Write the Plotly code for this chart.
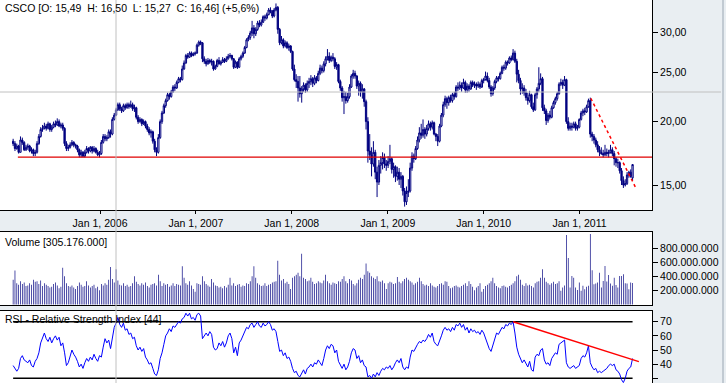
import pandas as pd
import plotly.graph_objects as go

# ---------------- weekly OHLC data (CSCO) ----------------
o05 = [18.3,18.1,17.7,17.9, 17.4,18.4,18.2,17.6, 17.8,17.9,17.5,17.6,17.3, 17.4,18.1,18.7,19.3, 19.4,19.6,19.4,19.8, 19.3,19.5,19.8,19.7,20.0, 19.6,19.7,19.4,18.1, 17.7,17.8,18.0,18.2,18.0, 17.9,17.6,17.2,17.4, 17.1,17.4,17.7,17.5, 17.8,17.5,17.7,17.4,17.2]
h05 = [18.5,18.3,18.1,18.0, 18.7,18.6,18.3,18.0, 18.1,18.0,17.8,17.7,17.6, 18.3,18.9,19.5,19.7, 19.9,19.8,20.0,19.9, 19.7,20.0,20.1,20.3,20.2, 19.9,19.9,19.5,18.3, 18.0,18.2,18.4,18.3,18.1, 18.0,17.7,17.6,17.5, 17.6,17.9,17.8,17.9, 17.9,17.9,17.8,17.6,17.5]
l05 = [17.9,17.5,17.6,17.3, 17.4,18.0,17.5,17.5, 17.6,17.4,17.3,17.1,17.1, 17.3,18.0,18.6,19.1, 19.3,19.2,19.3,19.1, 19.1,19.4,19.5,19.6,19.5, 19.4,19.2,17.9,17.5, 17.5,17.7,17.9,17.8,17.7, 17.4,17.0,17.0,17.0, 17.0,17.3,17.3,17.4, 17.3,17.4,17.3,17.1,17.0]
c05 = [18.1,17.7,17.9,17.4, 18.4,18.2,17.6,17.8, 17.9,17.5,17.6,17.3,17.4, 18.1,18.7,19.3,19.4, 19.6,19.4,19.8,19.3, 19.5,19.8,19.7,20.0,19.6, 19.7,19.4,18.1,17.7, 17.8,18.0,18.2,18.0,17.9, 17.6,17.2,17.4,17.1, 17.4,17.7,17.5,17.8, 17.5,17.7,17.4,17.2,17.3]

o06 = [17.3,18.2,18.7,18.5, 18.6,19.1,18.9,20.2, 20.6,21.1,21.6,21.2,21.0, 21.5,21.3,21.6,21.4, 21.6,21.2,21.3,20.4, 20.0,20.2,19.8,20.0,19.6, 19.3,19.0,19.1,18.3, 17.6,17.4,18.6,20.0, 20.8,21.5,22.0,22.6,22.4, 22.9,23.4,23.3,23.9, 24.3,24.2,25.4,26.1, 27.0,26.8,27.3,27.0,27.2]
h06 = [18.4,18.9,18.9,18.8, 19.3,19.3,20.4,20.8, 21.3,21.8,21.8,21.4,21.7, 21.7,21.8,21.8,22.0, 21.8,21.6,21.4,20.6, 20.4,20.3,20.2,20.1,19.8, 19.5,19.3,19.2,18.5, 17.8,18.9,20.2,21.0, 21.7,22.2,22.8,22.8,23.1, 23.6,23.7,24.1,24.5, 24.5,25.8,26.4,27.2, 27.3,27.5,27.5,27.4,27.5]
l06 = [17.2,18.1,18.3,18.3, 18.5,18.6,18.8,20.1, 20.5,21.0,21.0,20.8,20.9, 21.1,21.2,21.2,21.3, 21.0,20.9,20.2,19.8, 19.9,19.6,19.7,19.4,19.1, 18.8,18.6,18.1,17.4, 17.1,17.3,18.5,19.8, 20.7,21.3,21.9,22.1,22.3, 22.8,23.0,23.2,23.8, 23.9,24.1,25.3,26.0, 26.6,26.7,26.8,26.9,27.0]
c06 = [18.2,18.7,18.5,18.6, 19.1,18.9,20.2,20.6, 21.1,21.6,21.2,21.0,21.5, 21.3,21.6,21.4,21.6, 21.2,21.3,20.4,20.0, 20.2,19.8,20.0,19.6,19.3, 19.0,19.1,18.3,17.6, 17.4,18.6,20.0,20.8, 21.5,22.0,22.6,22.4,22.9, 23.4,23.3,23.9,24.3, 24.2,25.4,26.1,27.0, 26.8,27.3,27.0,27.2,27.3]

o07 = [27.3,28.3,28.7,28.6, 26.6,26.3,26.0,26.4, 26.2,26.3,25.4,25.7,26.4, 26.0,26.2,26.5,26.3, 26.6,26.9,27.0,26.6, 25.6,26.2,25.6,26.6,26.9, 27.3,28.0,29.0,29.3, 29.9,30.6,29.8,30.4,31.3, 31.0,31.4,32.2,32.0, 32.5,33.2,33.0,32.3, 33.2,33.6,30.4,28.6,29.0, 28.2,28.6,28.0,28.2]
h07 = [28.5,28.9,28.9,28.7, 26.9,26.6,26.7,26.6, 26.6,26.4,25.9,26.6,26.8, 26.4,26.8,26.7,26.9, 27.2,27.3,27.1,26.7, 26.4,26.3,26.8,27.1,27.5, 28.2,29.2,29.6,30.2, 31.6,31.0,30.7,31.6,31.7, 31.8,32.4,32.5,32.8, 33.5,33.6,33.2,33.5, 34.2,33.8,30.6,29.5,29.2, 28.9,28.8,28.5,28.3]
l07 = [27.2,28.1,28.3,26.2, 26.0,25.7,25.9,26.0, 25.8,25.2,25.3,25.6,25.9, 25.8,26.1,26.1,26.2, 26.5,26.7,26.4,25.4, 25.5,25.4,25.5,26.4,26.7, 27.2,27.9,28.8,29.0, 29.5,29.2,29.5,30.2,30.7, 30.8,31.3,31.6,31.8, 32.4,32.7,32.0,32.1, 33.0,29.8,28.3,28.4,27.9, 28.0,27.8,27.6,27.3]
c07 = [28.3,28.7,28.6,26.6, 26.3,26.0,26.4,26.2, 26.3,25.4,25.7,26.4,26.0, 26.2,26.5,26.3,26.6, 26.9,27.0,26.6,25.6, 26.2,25.6,26.6,26.9,27.3, 28.0,29.0,29.3,29.9, 30.6,29.8,30.4,31.3,31.0, 31.4,32.2,32.0,32.5, 33.2,33.0,32.3,33.2, 33.6,30.4,28.6,29.0,28.2, 28.6,28.0,28.2,27.5]

o08 = [27.5,25.4,24.2,24.0, 23.3,22.7,23.2,23.6,23.1, 23.8,24.0,24.3,23.8, 24.4,24.1,24.9,25.5, 25.2,26.0,26.6,26.9,26.4, 26.8,26.6,25.6,25.9, 24.0,23.3,22.3,22.4, 22.0,22.4,23.4,24.6,24.9, 24.6,23.5,23.8,22.9, 23.2,21.9,20.0,17.5,17.2, 16.5,17.4,15.9,15.2, 16.4,16.6,17.0,16.5]
h08 = [27.6,25.9,24.8,24.6, 24.6,23.5,23.9,23.8,24.1, 24.4,24.7,24.5,24.7, 24.6,25.2,25.9,25.8, 26.3,26.9,27.8,27.4,27.0, 27.3,26.8,26.2,26.0, 24.2,23.5,23.0,22.9, 22.8,23.7,24.8,25.3,25.2, 24.7,24.1,24.0,23.7, 23.3,22.1,20.4,18.9,17.8, 18.3,17.6,16.3,16.8, 17.1,17.4,17.3,16.8]
l08 = [25.2,24.0,23.3,21.9, 22.3,21.8,22.9,22.8,22.9, 23.3,23.6,23.4,23.6, 23.8,24.0,24.7,24.9, 25.0,25.7,26.4,26.1,26.2, 26.3,25.4,25.3,23.8, 23.0,21.9,20.7,21.7, 21.8,22.2,23.3,24.3,24.3, 23.2,22.5,22.4,22.2, 21.4,19.3,16.6,16.8,15.6, 16.3,15.4,14.2,15.0, 15.8,16.1,16.2,16.0]
c08 = [25.4,24.2,24.0,23.3, 22.7,23.2,23.6,23.1,23.8, 24.0,24.3,23.8,24.4, 24.1,24.9,25.5,25.2, 26.0,26.6,26.9,26.4,26.8, 26.6,25.7,25.9,24.0, 23.3,22.3,22.4,22.0, 22.4,23.4,24.6,24.9,24.6, 23.5,23.8,22.9,23.2, 21.9,20.0,17.5,17.2,16.5, 17.4,15.9,15.2,16.4, 16.6,17.0,16.5,16.4]

o09 = [16.4,16.7,16.9,16.1,16.3, 15.6,15.9,15.4,15.6, 14.6,13.9,14.5,14.6, 16.2,17.1,16.9,17.7, 18.4,19.0,18.8,19.3,18.9, 19.4,19.8,19.5,19.9, 18.9,18.7,18.3,19.6,20.6, 21.6,22.2,21.8,22.3, 22.0,22.6,22.4,23.4, 23.3,23.6,23.3,23.9,23.1, 23.5,23.2,23.9,23.6, 23.7,23.5,23.7,23.4]
h09 = [17.1,18.0,17.0,16.6,16.4, 16.3,16.2,15.9,15.7, 14.8,14.9,15.4,16.6, 17.4,17.3,17.9,18.7, 19.5,19.8,20.2,19.5,19.7, 20.1,20.0,20.1,20.0, 19.0,18.9,19.8,20.8,21.9, 22.5,22.4,22.5,22.6, 22.8,22.9,23.6,23.9, 24.0,23.9,24.3,24.1,23.8, 23.7,24.1,24.1,24.0, 23.9,24.0,23.9,24.3]
l09 = [16.2,16.5,15.8,15.5,15.2, 15.3,15.0,14.8,14.3, 13.6,13.7,14.2,14.5, 16.0,16.6,16.8,17.6, 18.2,18.5,18.6,18.5,18.7, 19.2,19.2,19.3,18.8, 18.3,17.9,18.2,19.5,20.4, 21.4,21.2,21.5,21.8, 21.8,22.1,22.3,23.0, 23.1,22.9,23.2,22.8,22.8, 22.9,23.1,23.4,23.3, 23.1,23.3,23.2,23.3]
c09 = [16.7,16.9,16.1,16.3,15.6, 15.9,15.4,15.6,14.6, 13.9,14.5,14.6,16.2, 17.1,16.9,17.7,18.4, 19.0,18.8,19.3,18.9,19.4, 19.8,19.5,19.9,18.9, 18.7,18.3,19.6,20.6,21.6, 22.2,21.8,22.3,22.0, 22.6,22.4,23.4,23.3, 23.6,23.3,23.9,23.1,23.5, 23.2,23.9,23.6,23.7, 23.5,23.7,23.4,24.1]

o10 = [24.1,24.2,24.6,24.1,23.4, 22.7,23.3,24.0,24.4, 24.3,24.9,25.6,25.5, 26.2,26.1,26.7,26.5,27.3, 26.3,24.8,24.1,23.2, 23.3,22.8,22.3,22.0, 22.6,21.4,21.1,22.6,23.2, 23.8,24.3,21.3,21.0, 20.1,20.6,20.4,21.3, 21.8,22.2,22.7,23.7,23.9, 23.6,24.2,20.0,19.4, 19.6,19.5,19.8,19.4,19.5]
h10 = [24.4,25.1,25.0,24.4,23.6, 23.5,24.2,24.6,24.6, 25.1,25.8,25.9,26.4, 26.4,26.9,27.0,27.8,27.6, 26.6,25.3,24.4,23.8, 23.6,23.2,22.8,23.0, 22.7,21.8,22.8,23.4,25.6, 24.9,24.5,21.6,21.2, 20.8,21.0,21.5,22.0, 22.4,22.9,23.9,24.3,24.2, 24.6,24.3,20.4,19.9, 19.9,20.0,20.0,19.7,20.3]
l10 = [23.8,24.1,23.9,23.2,22.4, 22.5,23.1,23.8,24.0, 24.2,24.8,25.2,25.3, 25.8,26.0,26.3,26.4,26.1, 23.9,23.8,22.6,22.7, 22.5,22.0,21.6,21.8, 21.2,20.9,21.0,22.2,22.9, 23.6,21.0,20.7,19.7, 19.9,20.2,20.3,21.2, 21.6,22.0,22.6,23.5,23.2, 23.5,19.8,19.2,19.2, 19.2,19.4,19.2,19.2,19.4]
c10 = [24.2,24.6,24.1,23.4,22.7, 23.3,24.0,24.4,24.3, 24.9,25.6,25.5,26.2, 26.1,26.7,26.5,27.3,26.3, 24.8,24.1,23.2,23.3, 22.8,22.3,22.0,22.6, 21.4,21.1,22.6,23.2,23.8, 24.3,21.3,21.0,20.1, 20.6,20.4,21.3,21.8, 22.2,22.7,23.7,23.9,23.6, 24.2,20.0,19.4,19.6, 19.5,19.8,19.4,19.5,20.2]

o11 = [20.2,20.8,21.0,20.9, 21.4,22.0,18.9,18.7, 18.4,18.0,17.6,17.4, 17.3,17.2,17.4,17.3,17.4, 17.6,17.3,16.9,16.6, 16.6,16.0,15.3,15.0, 15.1,15.7,15.9,15.49]
h11 = [21.0,21.2,21.3,21.6, 22.2,22.3,19.1,18.9, 18.6,18.3,17.9,17.8, 17.6,18.0,17.7,17.6,18.0, 17.8,17.5,17.0,16.9, 16.7,16.2,15.6,15.4, 15.9,16.0,16.1,16.50]
l11 = [20.1,20.5,20.6,20.8, 21.3,18.6,18.3,18.1, 17.8,17.4,17.1,17.2, 17.0,17.1,17.1,17.0,17.3, 17.1,16.4,16.3,16.2, 15.8,15.0,14.8,14.9, 15.0,15.5,15.5,15.27]
c11 = [20.8,21.0,20.9,21.4, 22.0,18.9,18.7,18.4, 18.0,17.6,17.4,17.3, 17.2,17.4,17.3,17.4,17.6, 17.3,16.9,16.6,16.6, 16.0,15.3,15.0,15.1, 15.7,15.9,15.59,16.46]

# weekly volume, millions of shares
v05 = [350,480,300,280, 330,290,310,260, 270,300,280,350,320, 330,290,340,260, 300,280,260,240, 250,290,310,270,230, 250,520,400,300, 260,250,270,240,220, 260,310,280,250, 260,330,270,240, 260,280,230,250,200]
v06 = [290,270,300,280, 350,530,360,310, 500,340,280,270,300, 260,280,250,260, 300,400,320,290, 270,300,280,310,260, 240,280,290,300, 270,420,330,260, 300,280,290,250,270, 300,260,290,280, 270,540,380,300, 280,330,270,220,180]
v07 = [300,290,280,400, 330,290,270,250, 360,310,270,260,240, 250,230,260,240, 280,380,270,300, 260,280,290,250,270, 260,300,290,330, 400,540,380,300,280, 260,270,300,260, 280,290,310,320, 330,620,420,340,360, 300,320,290,220]
v08 = [380,400,420,450, 400,720,380,360,330, 340,380,320,290, 300,330,310,300, 340,420,330,300,280, 310,300,290,330, 320,360,400,330, 300,360,340,290,270, 300,350,380,360, 420,580,470,450,400, 380,360,400,330, 320,340,300,220]
v09 = [300,320,310,290,300, 390,320,300,330, 360,380,350,330, 310,280,300,320, 380,330,290,270,280, 260,300,270,250, 240,260,290,300,280, 330,320,260,230, 240,260,270,250, 240,260,280,300,260, 330,290,250,200, 240,260,300,180]
v10 = [220,260,280,300,330, 380,300,260,240, 230,260,270,250, 240,260,280,300,330, 400,420,350,280, 260,300,270,280, 260,240,300,320,330, 380,500,380,320, 300,280,300,320, 290,300,330,194,240, 270,986,660,240, 403,380,240,203,310]
v11 = [194,264,217,250, 264,1000,483,287, 296,310,450,240, 334,544,324,417,296, 264,380,275,240, 403,403,427,300, 296,217,310,305.176]

# RSI (14) values
r05 = [39,37,35,37,44,46,43,42,41,43, 39,38,42,44,48,55,58,62,58,56, 59,55,58,60,57,59,53,55,48,39, 41,46,50,47,45,42,38,40,37,41, 44,42,45,43,47,44,42,46]
r06 = [45,52, 58,55,57,51,60,66,69,73,68,66, 69,64,65,61,62,58,59,53,50,52, 49,51,45,43,40,41,37,33,32,36, 44,48,54,60,62,65,63,67,66,68, 70,69,72,73,76,74,76,72,73,71]
r07 = [75,76,74,58,60,62,60,63,61,52, 50,51,55,53,56,52,55,60,62,58, 48,52,46,55,57,60,63,66,65,68, 69,66,68,70,67,66,69,67,68,70, 68,64,65,63,56,49,50,46,48,44, 45,42]
r08 = [37,34,35,32,31,34,36,33, 37,38,40,38,41,40,43,41,39,44, 50,53,51,54,53,48,50,42,39,37, 40,36,38,42,48,51,50,44,46,41, 43,39,38,31,32,30,33,31,34,32, 35,37,36,38]
r09 = [37,39,36,38,41,43, 41,44,38,36,38,37,45,50,49,52, 54,56,55,57,56,58,61,59,62,56, 54,53,56,60,64,66,64,65,63,66, 64,68,67,69,66,68,64,66,62,65, 63,64,62,63,61,64]
r10 = [62,58,55,51, 49,54,59,62,61,64,66,65,68,67, 69,68,70,62,52,47,44,41,43,40, 38,42,36,35,45,47,46,50,51,43, 40,41,39,44,46,48,47,54,55,56, 57,41,38,37,38,39,37,38,39]
r11 = [44,46,45,48,53,41,38,36,37,34,35, 34,35,36,37,39,40,39,40,36,35, 33,29,27,30,35,37,38,44]

first_week = "2005-02-04"
n_weeks = 338

# drawn lines (user annotations on the chart)
support_dates = ["2005-02-22", "2011-10-04"]
support_values = [17.03, 17.03]
price_trend_dates = ["2011-02-13", "2011-08-02"]
price_trend_values = [22.23, 14.85]
rsi_trend_dates = ["2010-04-23", "2011-08-15"]
rsi_trend_values = [70, 41.8]
rsi_levels = [70, 30]

year_ticks = ["2006-01-01", "2007-01-01", "2008-01-01", "2009-01-01", "2010-01-01", "2011-01-01"]
price_ticks = [15, 20, 25, 30]
vol_ticks = [200e6, 400e6, 600e6, 800e6]
rsi_ticks = [30, 40, 50, 60, 70]

# ------------------------------------------------------------------------------
opens = o05 + o06 + o07 + o08 + o09 + o10 + o11
highs = h05 + h06 + h07 + h08 + h09 + h10 + h11
lows = l05 + l06 + l07 + l08 + l09 + l10 + l11
closes = c05 + c06 + c07 + c08 + c09 + c10 + c11
volume = [v * 1e6 for v in (v05 + v06 + v07 + v08 + v09 + v10 + v11)]
rsi = r05 + r06 + r07 + r08 + r09 + r10 + r11
for arr in (opens, highs, lows, closes, volume, rsi):
    assert len(arr) == n_weeks, len(arr)

dates = pd.date_range(first_week, periods=n_weeks, freq="7D")

NAVY = "#000080"
BG = "#E9EEF2"
W, H = 726, 383
XD = 652 / W

fig = go.Figure()
fig.add_trace(go.Candlestick(
    x=dates, open=opens, high=highs, low=lows, close=closes,
    xaxis="x", yaxis="y", whiskerwidth=0, hoverinfo="skip",
    increasing=dict(line=dict(color=NAVY, width=1), fillcolor="white"),
    decreasing=dict(line=dict(color=NAVY, width=1), fillcolor=NAVY),
))
fig.add_trace(go.Scatter(x=support_dates, y=support_values, mode="lines",
                         line=dict(color="#E00000", width=1.2), xaxis="x", yaxis="y"))
fig.add_trace(go.Scatter(x=price_trend_dates, y=price_trend_values, mode="lines",
                         line=dict(color="#FF0000", width=1.5, dash="dot"), xaxis="x", yaxis="y"))

fig.add_trace(go.Bar(x=dates, y=volume, marker=dict(color=NAVY, line=dict(width=0)),
                     width=2.6 * 24 * 3600 * 1000, xaxis="x2", yaxis="y2"))

for lv in rsi_levels:
    fig.add_trace(go.Scatter(x=[dates[0], dates[-1]], y=[lv, lv], mode="lines",
                             line=dict(color="black", width=1.5), xaxis="x3", yaxis="y3"))
fig.add_trace(go.Scatter(x=dates, y=rsi, mode="lines", line=dict(color="#0000FF", width=1),
                         xaxis="x3", yaxis="y3"))
fig.add_trace(go.Scatter(x=rsi_trend_dates, y=rsi_trend_values, mode="lines",
                         line=dict(color="#FF0000", width=1.5), xaxis="x3", yaxis="y3"))

xr = ["2004-12-16", "2011-10-04"]
ax_common = dict(showgrid=False, zeroline=False, linecolor="black", linewidth=1,
                 tickcolor="black", fixedrange=True, automargin=False)

fig.update_layout(
    width=W, height=H, margin=dict(l=0, r=0, t=0, b=0),
    paper_bgcolor=BG, plot_bgcolor="white", showlegend=False, hovermode=False,
    separators=",.", template="none", boxgap=0,
    font=dict(family="Liberation Sans, Arial, sans-serif", size=10.5, color="black"),
    xaxis=dict(domain=[0, XD], anchor="y", type="date", range=xr, showline=True, mirror=False,
               ticks="outside", ticklen=3, tickvals=year_ticks, tickformat="%b %-d, %Y",
               rangeslider=dict(visible=False), **ax_common),
    yaxis=dict(domain=[(H - 210) / H, 1], anchor="x", type="log", range=[1.1268, 1.5408],
               side="right", showline=True, mirror=True, ticks="outside", ticklen=5,
               tickvals=price_ticks, tickformat=".2f", **ax_common),
    xaxis2=dict(domain=[0, XD], anchor="y2", type="date", matches="x", showline=True, mirror=True,
                showticklabels=False, ticks="", **ax_common),
    yaxis2=dict(domain=[(H - 305) / H, (H - 232) / H], anchor="x2", range=[-8e6, 1.027e9],
                side="right", showline=True, mirror=True, ticks="outside", ticklen=5,
                tickvals=vol_ticks, tickformat=",d", **ax_common),
    xaxis3=dict(domain=[0, XD], anchor="y3", type="date", matches="x", side="top", showline=True,
                mirror=False, showticklabels=False, ticks="", **ax_common),
    yaxis3=dict(domain=[0, (H - 311) / H], anchor="x3", range=[26.68, 77.56],
                side="right", showline=True, mirror=True, ticks="outside", ticklen=5,
                tickvals=rsi_ticks, **ax_common),
)

nb = "\u00a0"
fig.add_annotation(x=3 / W, y=1 - 8 / H, xref="paper", yref="paper", xanchor="left", yanchor="middle",
                   showarrow=False, text=f"CSCO [O: 15,49{nb}{nb}H: 16,50{nb}{nb}L: 15,27{nb}{nb}C: 16,46] (+5,6%)")
fig.add_annotation(x=3 / W, y=1 - 242 / H, xref="paper", yref="paper", xanchor="left", yanchor="middle",
                   showarrow=False, text="Volume [305.176.000]")
fig.add_annotation(x=3 / W, y=1 - 319 / H, xref="paper", yref="paper", xanchor="left", yanchor="middle",
                   showarrow=False, text="RSI - Relative Strength Index [44]")

# crosshair and window edge
fig.add_shape(type="line", xref="paper", yref="paper", x0=0, x1=721 / W, y0=1 - 92 / H, y1=1 - 92 / H,
              line=dict(color="#C0C0C0", width=1), layer="above")
fig.add_shape(type="line", xref="paper", yref="paper", x0=116 / W, x1=116 / W, y0=0, y1=1,
              line=dict(color="#C0C0C0", width=1), layer="above")
fig.add_shape(type="line", xref="paper", yref="paper", x0=723 / W, x1=723 / W, y0=0, y1=1,
              line=dict(color="#9AA6B2", width=1), layer="above")

fig.write_html("out.html", config={"displayModeBar": False, "staticPlot": True},
               post_script="document.body.style.margin='0';document.body.style.overflow='hidden';")
